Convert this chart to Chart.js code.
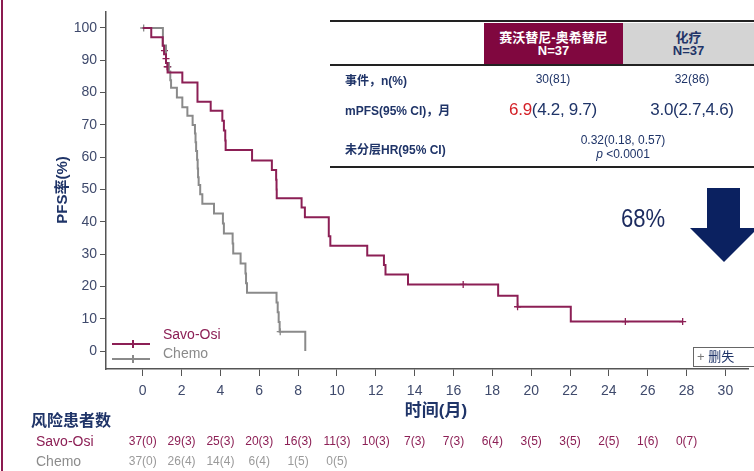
<!DOCTYPE html>
<html lang="zh">
<head>
  <meta charset="UTF-8" />
  <title>PFS Kaplan-Meier</title>
  <style>
    body {
      margin: 0;
      background: #fff;
      font-family: "Liberation Sans", "Noto Sans CJK SC", sans-serif;
    }
    #wrap {
      position: relative;
      width: 754px;
      height: 471px;
      overflow: hidden;
    }
    #chart {
      position: absolute;
      left: 0;
      top: 0;
    }
    .abs {
      position: absolute;
      white-space: nowrap;
    }
    .rule { background: #222; height: 2px; left: 330px; width: 424px; }
    .hcell { top: 23px; height: 41px; text-align: center; font-size: 13px; line-height: 13px; font-weight: bold; }
    .hcell div { margin-top: 8px; }
    .rowlab { left: 345px; font-size: 12px; font-weight: bold; color: #1f3468; transform: translateY(-50%); }
    .val { font-size: 12px; color: #1f3468; transform: translate(-50%, -50%); text-align: center; }
    .big { font-size: 17px; letter-spacing: -0.3px; }
    #leftbar { left: 1px; top: 0; width: 2px; height: 471px; background: #8b1a50; }
  </style>
</head>
<body>
<div id="wrap">
  <canvas id="chart" width="754" height="471"></canvas>

  <div class="abs" id="leftbar"></div>

  <!-- summary table -->
  <div class="abs rule" style="top:20px"></div>
  <div class="abs hcell" style="left:484px; width:139px; background:#80073f; color:#fff;">
    <div>赛沃替尼-奥希替尼<br>N=37</div>
  </div>
  <div class="abs hcell" style="left:623px; width:131px; background:#d4d4d4; color:#1f3468;">
    <div>化疗<br>N=37</div>
  </div>
  <div class="abs rule" style="top:64px"></div>
  <div class="abs rule" style="top:166px"></div>

  <div class="abs rowlab" style="top:79px">事件，n(%)</div>
  <div class="abs rowlab" style="top:109px">mPFS(95% CI)，月</div>
  <div class="abs rowlab" style="top:148px">未分层HR(95% CI)</div>

  <div class="abs val" style="left:553px; top:79px">30(81)</div>
  <div class="abs val" style="left:692px; top:79px">32(86)</div>
  <div class="abs val big" style="left:553px; top:110px"><span style="color:#d42027">6.9</span>(4.2, 9.7)</div>
  <div class="abs val big" style="left:692px; top:110px">3.0(2.7,4.6)</div>
  <div class="abs val" style="left:623px; top:140px">0.32(0.18, 0.57)</div>
  <div class="abs val" style="left:623px; top:154px"><i>p</i> &lt;0.0001</div>

  <!-- reduction callout -->
  <div class="abs" style="left:643px; top:218px; transform:translate(-50%,-50%) scaleX(0.85); font-size:26px; color:#1b2a5e;">68%</div>
  <svg class="abs" style="left:0; top:0" width="754" height="471">
    <polygon points="707,188 740,188 740,228 758,228 724,262 690,228 707,228" fill="#0b2160" />
  </svg>

  <!-- censor key -->
  <div class="abs" style="left:693px; top:347px; width:64px; height:18px; border:1px solid #666; font-size:13px; line-height:18px; color:#1f3468;">
    <span style="color:#777; padding-left:3px">+</span> 删失
  </div>
</div>

<script src="https://cdn.jsdelivr.net/npm/chart.js"></script>
<script>
  // Kaplan-Meier step points (months, PFS %)
  const savoTimes = [0, 0.44, 1.03, 1.1, 1.2, 1.28, 2.04, 2.82, 3.5, 4.1, 4.18, 4.25, 4.27, 5.63, 6.65, 6.87, 6.89, 6.9, 8.18, 8.35, 9.58, 9.66, 11.56, 12.42, 12.5, 13.66, 18.3, 19.3, 22.04, 27.8];
  const savoSurv  = [100, 97.1, 94.5, 91.9, 89.2, 86.2, 83.1, 77.2, 74.4, 71.3, 68.3, 65.2, 62.2, 59.0, 56.0, 53.0, 50.0, 47.3, 44.4, 41.4, 35.5, 32.6, 29.6, 26.6, 23.7, 20.6, 17.1, 13.7, 9.1, 9.1];

  const chemoTimes = [0, 1.04, 1.2, 1.35, 1.42, 1.46, 1.76, 2.04, 2.3, 2.57, 2.69, 2.72, 2.75, 2.8, 2.83, 2.85, 2.88, 2.96, 3.07, 3.67, 4.13, 4.18, 4.63, 4.66, 5.04, 5.29, 5.32, 5.37, 6.89, 6.95, 7.0, 7.05, 8.37];
  const chemoSurv  = [100, 94.6, 89.2, 86.5, 83.8, 81.5, 78.5, 75.5, 72.8, 70.0, 67.3, 64.6, 61.9, 59.2, 56.5, 53.8, 51.4, 48.5, 45.6, 42.6, 39.5, 36.4, 33.3, 30.2, 27.1, 24.0, 21.0, 18.0, 15.0, 12.0, 9.0, 6.0, 0];

  // censored observations
  const savoCensorT = [1.12, 1.2, 1.26, 16.5, 19.3, 24.85, 27.8];
  const savoCensorS = [93.0, 90.5, 88.0, 20.6, 13.7, 9.1, 9.1];
  const chemoCensorT = [0.05, 1.3, 7.08];
  const chemoCensorS = [100, 88.0, 6.0];

  // ticks and number at risk
  const xTicks = [0, 2, 4, 6, 8, 10, 12, 14, 16, 18, 20, 22, 24, 26, 28, 30];
  const yTicks = [0, 10, 20, 30, 40, 50, 60, 70, 80, 90, 100];
  const riskTimes = [0, 2, 4, 6, 8, 10, 12, 14, 16, 18, 20, 22, 24, 26, 28];
  const riskSavo  = ['37(0)', '29(3)', '25(3)', '20(3)', '16(3)', '11(3)', '10(3)', '7(3)', '7(3)', '6(4)', '3(5)', '3(5)', '2(5)', '1(6)', '0(7)'];
  const riskChemo = ['37(0)', '26(4)', '14(4)', '6(4)', '1(5)', '0(5)'];

  const maroon = '#8c1f55';
  const grey = '#8a8a8a';
  const navy = '#1f3468';
  const tickColor = '#3f4a6c';
  const fontFam = '"Liberation Sans", "Noto Sans CJK SC", sans-serif';

  const toPts = (ts, ss) => ts.map((t, i) => ({ x: t, y: ss[i] }));

  const extras = {
    id: 'extras',
    afterDraw(chart) {
      const c = chart.ctx;
      const xs = chart.scales.x;
      c.save();

      // axis titles
      c.fillStyle = navy;
      c.font = 'bold 17px ' + fontFam;
      c.textAlign = 'center';
      c.textBaseline = 'middle';
      c.fillText('时间(月)', 436, 411);

      c.save();
      c.translate(63, 190);
      c.rotate(-Math.PI / 2);
      c.font = 'bold 15px ' + fontFam;
      c.fillText('PFS率(%)', 0, 0);
      c.restore();

      // legend
      const legend = [['Savo-Osi', maroon, 344, 335], ['Chemo', grey, 359, 354]];
      legend.forEach(([txt, col, ly, ty]) => {
        c.strokeStyle = col;
        c.lineWidth = 2;
        c.beginPath();
        c.moveTo(112, ly);
        c.lineTo(150, ly);
        c.moveTo(133, ly - 4);
        c.lineTo(133, ly + 4);
        c.stroke();
        c.fillStyle = col;
        c.font = '14px ' + fontFam;
        c.textAlign = 'left';
        c.fillText(txt, 163, ty);
      });

      // number at risk
      c.fillStyle = navy;
      c.font = 'bold 16px ' + fontFam;
      c.textAlign = 'left';
      c.fillText('风险患者数', 31, 422);
      c.font = '14px ' + fontFam;
      c.fillStyle = maroon;
      c.fillText('Savo-Osi', 36, 442);
      c.fillStyle = '#8c8c8c';
      c.fillText('Chemo', 36, 462);

      c.font = '12px ' + fontFam;
      c.textAlign = 'center';
      c.fillStyle = maroon;
      riskSavo.forEach((s, i) => c.fillText(s, xs.getPixelForValue(riskTimes[i]), 442));
      c.fillStyle = '#9a9a9a';
      riskChemo.forEach((s, i) => c.fillText(s, xs.getPixelForValue(riskTimes[i]), 462));

      c.restore();
    }
  };

  const censorSet = (ts, ss, col) => ({
    data: toPts(ts, ss),
    showLine: false,
    pointStyle: 'cross',
    pointRadius: 3.5,
    borderColor: col,
    borderWidth: 1.3,
    backgroundColor: col
  });

  new Chart(document.getElementById('chart'), {
    type: 'line',
    data: {
      datasets: [
        { label: 'Savo-Osi', data: toPts(savoTimes, savoSurv), borderColor: maroon, borderWidth: 2, stepped: 'before', pointRadius: 0, fill: false },
        { label: 'Chemo', data: toPts(chemoTimes, chemoSurv), borderColor: grey, borderWidth: 2, stepped: 'before', pointRadius: 0, fill: false },
        censorSet(savoCensorT, savoCensorS, maroon),
        censorSet(chemoCensorT, chemoCensorS, grey)
      ]
    },
    options: {
      responsive: false,
      animation: false,
      events: [],
      plugins: { legend: { display: false }, tooltip: { enabled: false } },
      layout: { padding: { left: 0, right: 0, top: 12, bottom: 50 } },
      scales: {
        x: {
          type: 'linear',
          min: -1.89,
          max: 31.2,
          afterBuildTicks: s => { s.ticks = xTicks.map(v => ({ value: v })); },
          afterFit: s => { s.height = 52; },
          grid: { drawOnChartArea: false, tickLength: 7, color: '#555' },
          border: { color: '#555', width: 1.5 },
          ticks: { color: tickColor, font: { size: 14, family: fontFam }, padding: 7, autoSkip: false, maxRotation: 0 }
        },
        y: {
          min: -5.57,
          max: 104.95,
          afterBuildTicks: s => { s.ticks = yTicks.map(v => ({ value: v })); },
          afterFit: s => { s.width = 106; },
          grid: { drawOnChartArea: false, tickLength: 6, color: '#555' },
          border: { color: '#555', width: 1.5 },
          ticks: { color: tickColor, font: { size: 14, family: fontFam }, padding: 3 }
        }
      }
    },
    plugins: [extras]
  });
</script>
</body>
</html>
